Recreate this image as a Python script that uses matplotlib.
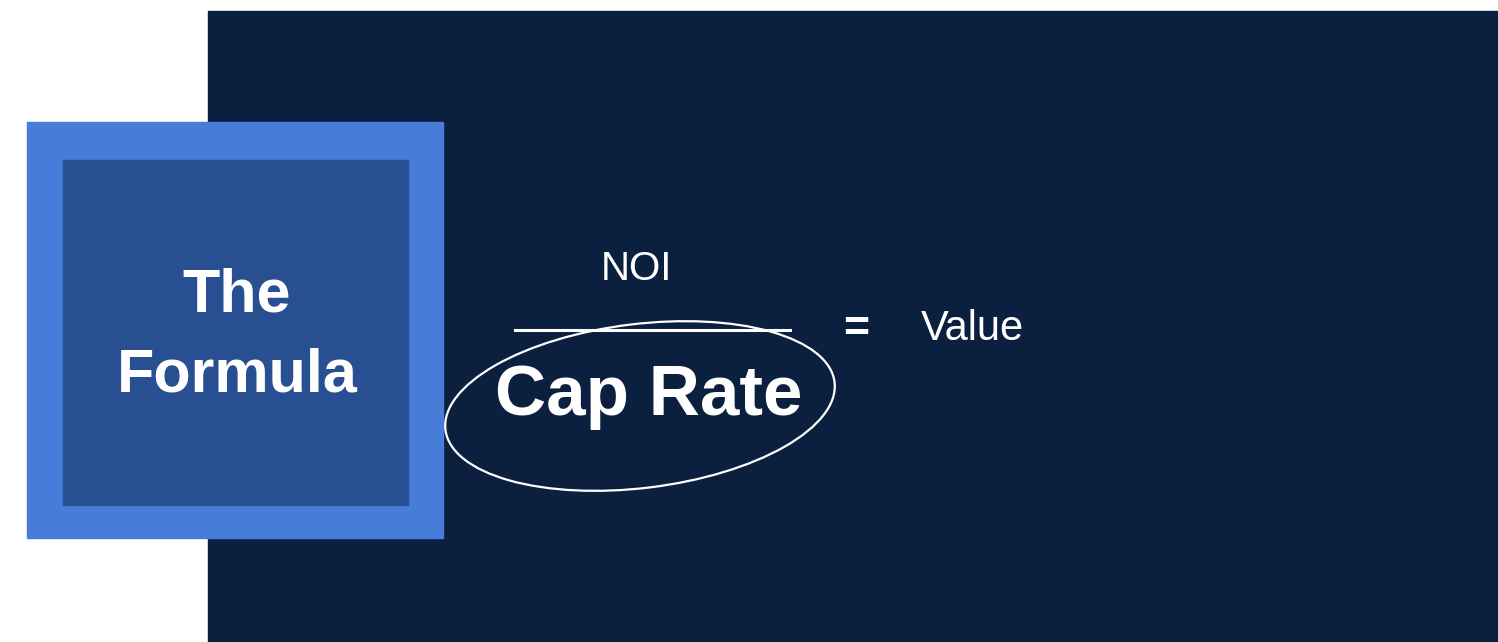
import matplotlib.pyplot as plt
from matplotlib.patches import Rectangle, Ellipse

plt.rcParams['font.family'] = ['Liberation Sans', 'DejaVu Sans']

W, H = 1498, 642
navy, blue, inner = '#0b1f3f', '#477dd9', '#274f91'

title_lines = ['The', 'Formula']
numerator = 'NOI'
denominator = 'Cap Rate'
result = 'Value'

fig = plt.figure(figsize=(W/100, H/100), dpi=100)
ax = fig.add_axes([0, 0, 1, 1])
ax.set_xlim(0, W)
ax.set_ylim(H, 0)
ax.axis('off')

# background panels
ax.add_patch(Rectangle((208, 11), W - 208, H - 11, color=navy, zorder=1))
ax.add_patch(Rectangle((27, 122), 416, 416, color=blue, zorder=2))
ax.add_patch(Rectangle((63, 160), 345, 345, color=inner, zorder=3))

ax.text(237, 296, title_lines[0], color='white', fontsize=44, fontweight='bold',
        ha='center', va='center', zorder=4)
ax.text(237, 376, title_lines[1], color='white', fontsize=44, fontweight='bold',
        ha='center', va='center', zorder=4)

# fraction
ax.text(636, 269, numerator, color='white', fontsize=29, ha='center', va='center', zorder=4)
ax.plot([515, 790], [330, 330], color='white', lw=2.2, zorder=4)
ax.text(649, 397, denominator, color='white', fontsize=51, fontweight='bold',
        ha='center', va='center', zorder=4)
ax.add_patch(Ellipse((640, 406), 392, 164, angle=-7, fill=False, ec='white', lw=1.6, zorder=5))

ax.text(856, 329, '=', color='white', fontsize=32, fontweight='bold', ha='center', va='center', zorder=4)
ax.text(921, 329, result, color='white', fontsize=30, ha='left', va='center', zorder=4)

fig.savefig('out.png', dpi=100, facecolor='white')
